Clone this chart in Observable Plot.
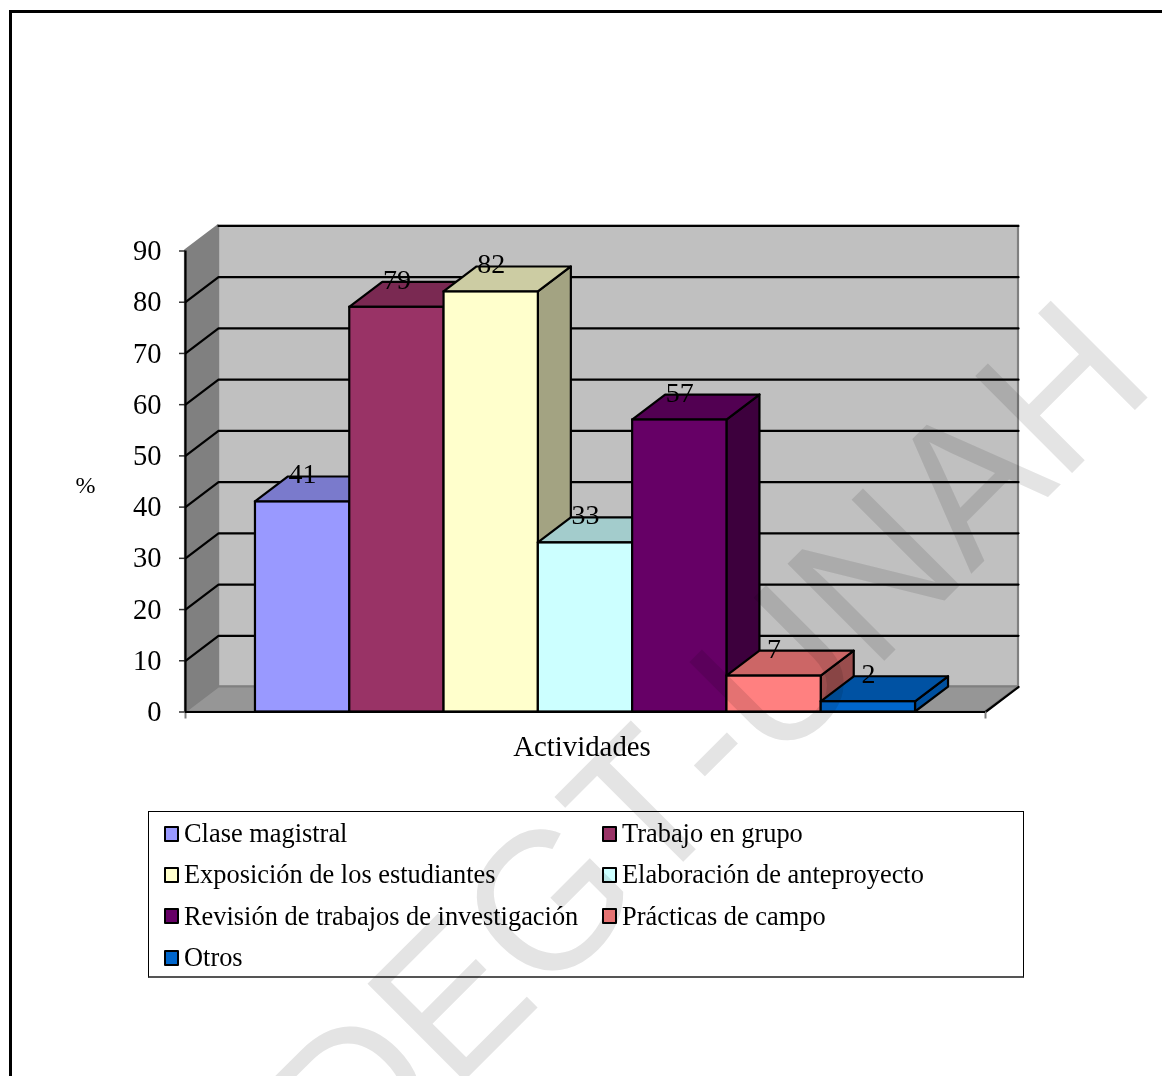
<!DOCTYPE html>
<html lang="es">
<head>
<meta charset="utf-8">
<title>Actividades</title>
<script src="https://cdn.jsdelivr.net/npm/d3@7"></script>
<script src="https://cdn.jsdelivr.net/npm/@observablehq/plot@0.6"></script>
<style>
  html, body { margin: 0; padding: 0; background: #fff; overflow: hidden; }
  #page { position: relative; width: 1162px; height: 1076px; overflow: hidden; font-family: "Liberation Serif", serif; }
  #page svg { position: absolute; left: 0; top: 0; display: block; }
  #frame { position: absolute; left: 9px; top: 10px; right: -10px; bottom: -10px; border: 3px solid #000; }
  #legend {
    position: absolute; left: 148px; top: 811px; width: 876px; height: 167px;
    border: 1px solid #000; border-bottom: 2px solid #555;
    display: grid; grid-template-columns: 438px 1fr; grid-auto-rows: 41.3px;
    padding-left: 15px; box-sizing: border-box; padding-top: 1px;
    font-size: 26.4px; color: #000;
  }
  .entry { display: flex; align-items: center; white-space: nowrap; }
  .swatch { width: 11px; height: 12px; border: 2.2px solid #000; border-radius: 1px; margin-right: 5px; flex: none; }
</style>
</head>
<body>
<div id="page">
  <div id="frame"></div>
  <div id="chart"></div>
  <div id="legend"></div>
  <div id="stamp"></div>
</div>
<script>
// Share of each teaching activity, in percent
const categories = [
  "Clase magistral", "Trabajo en grupo", "Exposición de los estudiantes",
  "Elaboración de anteproyecto", "Revisión de trabajos de investigación",
  "Prácticas de campo", "Otros"
];
const values = [41, 79, 82, 33, 57, 7, 2];
const frontColors = ["#9999ff", "#993366", "#ffffcc", "#ccffff", "#660066", "#ff8080", "#0066cc"];
const topColors   = ["#7a7acc", "#7a2952", "#cccca3", "#a3cccc", "#520052", "#cc6666", "#0052a3"];
const sideColors  = ["#5c5c99", "#5c1f3d", "#a3a382", "#7a9999", "#3d003d", "#994d4d", "#00509f"];
const yTicks = [0, 10, 20, 30, 40, 50, 60, 70, 80, 90];

// Oblique projection depth, in scale units, plus the floor's extent along x
const depthX = 0.35;
const depthY = 4.88;
const floorLeft = -0.742;
const floorRight = 7.742;
const yMax = 90;

const textFont = 28;
const black = "#000";
const wallEdge = "#808080";
const lineWidth = 2.2;

// One parallelogram standing on a vertical edge pair
const sideFace = (x, yLow, yHigh, fill, stroke) =>
  Plot.areaY([
    {x, y1: yLow, y2: yHigh},
    {x: x + depthX, y1: yLow + depthY, y2: yHigh + depthY}
  ], {x: "x", y1: "y1", y2: "y2", fill, stroke, strokeWidth: lineWidth, strokeLinejoin: "round"});

// One parallelogram lying flat between two x positions
const flatFace = (xLow, xHigh, y, fill, stroke) =>
  Plot.areaX([
    {y, x1: xLow, x2: xHigh},
    {y: y + depthY, x1: xLow + depthX, x2: xHigh + depthX}
  ], {y: "y", x1: "x1", x2: "x2", fill, stroke, strokeWidth: lineWidth, strokeLinejoin: "round"});

// The three visible faces of a bar, painted left to right so neighbours overlap correctly
const barMarks = values.flatMap((v, i) => [
  sideFace(i + 1, 0, v, sideColors[i], black),
  flatFace(i, i + 1, v, topColors[i], black),
  Plot.rect([{x1: i, x2: i + 1, y1: 0, y2: v}], {
    x1: "x1", x2: "x2", y1: "y1", y2: "y2",
    fill: frontColors[i], stroke: black, strokeWidth: lineWidth
  })
]);

// Gridlines wrap from the left wall onto the back wall
const gridMarks = yTicks.filter(t => t > 0).map(t =>
  Plot.line(
    t < yMax
      ? [[floorLeft, t], [floorLeft + depthX, t + depthY], [floorRight + depthX, t + depthY]]
      : [[floorLeft + depthX, t + depthY], [floorRight + depthX, t + depthY]],
    {stroke: black, strokeWidth: lineWidth}
  )
);

const chart = Plot.plot({
  width: 1162,
  height: 1076,
  marginLeft: 185,
  marginRight: 144,
  marginTop: 225.5,
  marginBottom: 364.5,
  style: {fontFamily: "'Liberation Serif', serif", background: "transparent", overflow: "visible"},
  x: {type: "linear", domain: [floorLeft, floorRight + depthX], axis: null},
  y: {type: "linear", domain: [0, yMax + depthY], axis: null},
  marks: [
    // Back wall, left wall and floor
    Plot.rect([{}], {
      x1: () => floorLeft + depthX, x2: () => floorRight + depthX,
      y1: () => depthY, y2: () => yMax + depthY,
      fill: "#c0c0c0", stroke: wallEdge, strokeWidth: lineWidth
    }),
    sideFace(floorLeft, 0, yMax, "#808080", wallEdge),
    flatFace(floorLeft, floorRight, 0, "#969696", wallEdge),
    ...gridMarks,
    Plot.line([[floorRight, 0], [floorRight + depthX, depthY]], {stroke: black, strokeWidth: lineWidth}),

    // Axes
    Plot.axisY({
      ticks: yTicks, anchor: "left", tickSize: 6, tickPadding: 18, label: null,
      fontSize: textFont + 0.5, stroke: "#333", strokeWidth: 1.5, fill: black
    }),
    Plot.axisX({
      ticks: [floorLeft, floorRight], anchor: "bottom", tickSize: 7, tickFormat: () => "",
      label: null, stroke: wallEdge, strokeWidth: 2
    }),
    Plot.ruleX([floorLeft], {y1: 0, y2: yMax, stroke: black, strokeWidth: lineWidth}),
    Plot.ruleY([0], {x1: floorLeft, x2: floorRight, stroke: black, strokeWidth: lineWidth}),

    ...barMarks,

    // Value labels sit at the back edge of each bar's top
    Plot.text(values, {
      x: (v, i) => i + 0.5,
      y: v => v + depthY,
      text: v => String(v),
      dy: -2.5,
      fontSize: textFont, fill: black, lineAnchor: "middle", textAnchor: "middle"
    }),

    // Axis titles
    Plot.text(["Actividades"], {
      x: () => 3.5, frameAnchor: "bottom", dx: -3.5, dy: 35,
      fontSize: 28.8, fill: black, lineAnchor: "middle", textAnchor: "middle"
    }),
    Plot.text(["%"], {
      frameAnchor: "left", dx: -100, dy: 16,
      fontSize: 24, fill: black, lineAnchor: "middle", textAnchor: "middle"
    })
  ]
});
document.getElementById("chart").append(chart);

// Two-column legend under the chart
const legend = d3.select("#legend");
categories.forEach((name, i) => {
  const entry = legend.append("div").attr("class", "entry");
  entry.append("span").attr("class", "swatch").style("background", frontColors[i]);
  entry.append("span").text(name);
});

// Diagonal stamp, multiplied over everything on the sheet
const stampSize = 199;
const stampAdvanceSize = 191;
const stamp = Plot.plot({
  width: 1162,
  height: 1076,
  margin: 0,
  style: {background: "transparent", mixBlendMode: "multiply"},
  x: {domain: [0, 1], axis: null},
  y: {domain: [0, 1], axis: null},
  marks: [
    Plot.text(["DEGT-UNAH"], {
      frameAnchor: "top-left", dx: 1158, dy: 386,
      rotate: -45, fontSize: stampSize, fontFamily: "'Liberation Sans', sans-serif",
      fill: "#e4e4e4", textAnchor: "end", lineAnchor: "bottom"
    })
  ]
});
document.getElementById("stamp").append(stamp);

// The stamp's letters are slightly condensed and set without kerning
const stampText = d3.select(stamp).select("text").node();
stampText.style.fontKerning = "none";
stampText.setAttribute("textLength", stampText.getComputedTextLength() * stampAdvanceSize / stampSize);
stampText.setAttribute("lengthAdjust", "spacingAndGlyphs");
</script>
</body>
</html>
